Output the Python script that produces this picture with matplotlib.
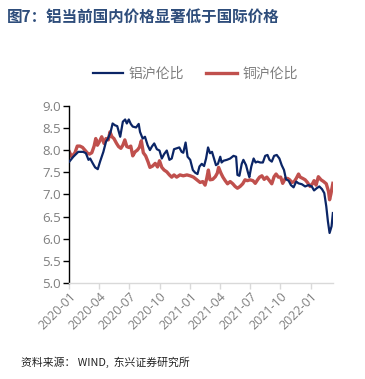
import numpy as np
import pandas as pd
import matplotlib
matplotlib.use('Agg')
import matplotlib.pyplot as plt
import matplotlib.dates as mdates

plt.rcParams['font.family'] = ['Noto Sans CJK SC', 'DejaVu Sans']

# Data (days since 2020-01-01, ratio values)
start = pd.Timestamp('2020-01-01')

al_days = [0,12,27,42,50,58,63,71,78,86, 93,103,111,117,125,131,138,145,154,162,
           169,174,180,186,192,202,210,214,222,229, 237,244,250,257,265,273,280,287,295,303,
           310,317,325,333,340,345,352,358,366,374, 381,388,394,401,408,414,420,426,432,438,
           444,450,457,461,467,477,487,497,505,509, 515,522,527,535,541,545,551,558,564,570,
           578,586,593,600,606,613,620,628,636,643, 650,656,664,671,679,687,694,704,714,724,
           734,741,749,757,765,772,778,783,788,794, 798]
al_ratio = [7.74,7.85,7.96,7.96,7.93,7.78,7.81,7.70,7.61,7.57,
            7.74,7.96,8.19,8.26,8.41,8.60,8.56,8.54,8.30,8.64,
            8.69,8.60,8.69,8.59,8.53,8.51,8.59,8.41,8.26,8.30,
            8.11,8.00,8.08,8.15,8.02,7.99,7.81,7.91,7.99,7.78,
            7.81,8.02,8.04,8.06,7.96,7.94,8.17,7.85,7.78,7.55,
            7.49,7.46,7.63,7.69,7.64,7.81,8.06,7.93,7.96,7.81,
            7.66,7.69,7.85,7.72,7.76,7.78,7.81,7.87,7.85,7.44,
            7.42,7.69,7.78,7.66,7.49,7.39,7.63,7.81,7.72,7.74,
            7.72,7.72,7.87,7.89,7.78,7.74,7.87,7.89,7.81,7.66,
            7.55,7.34,7.31,7.21,7.16,7.29,7.25,7.23,7.18,7.21,
            7.18,7.09,7.14,7.18,7.12,7.03,6.73,6.39,6.13,6.28,
            6.58]

cu_days = [0,7,17,24,32,40,47,55,61,68, 75,80,85,91,98,105,111,118,123,129,
           135,143,149,156,162,168,174,180,186,192, 199,206,212,218,224,231,238,244,252,260,
           267,273,280,287,295,303,310,317,325,335, 345,356,366,376,386,396,404,411,416,421,
           426,434,442,448,452,459,465,472,479,487, 495,502,509,517,525,532,539,547,556,563,
           570,576,583,590,598,606,613,620,626,633, 640,646,654,661,667,674,681,687,694,699,
           707,714,721,729,737,741,747,754,762,770, 778,785,788,792,798]
cu_ratio = [7.96,7.85,7.94,8.09,8.09,8.06,8.00,7.93,7.91,7.94,
            8.09,8.26,8.11,8.19,8.30,8.15,8.26,8.23,8.41,8.30,
            8.26,8.15,8.08,8.04,8.11,8.23,8.08,8.06,8.09,7.87,
            7.96,8.00,8.06,8.21,7.94,7.87,7.74,7.61,7.64,7.70,
            7.62,7.76,7.61,7.55,7.51,7.44,7.39,7.44,7.39,7.44,
            7.42,7.44,7.42,7.39,7.33,7.27,7.29,7.21,7.36,7.55,
            7.33,7.34,7.40,7.48,7.61,7.48,7.39,7.31,7.24,7.29,
            7.24,7.18,7.14,7.18,7.24,7.33,7.31,7.33,7.31,7.25,
            7.33,7.39,7.42,7.34,7.39,7.31,7.24,7.40,7.46,7.39,
            7.39,7.25,7.36,7.36,7.33,7.27,7.29,7.36,7.46,7.39,
            7.36,7.33,7.27,7.18,7.25,7.31,7.21,7.40,7.33,7.29,
            7.24,7.06,6.88,7.01,7.25]

labels = ['铝沪伦比', '铜沪伦比']
title = '图7：铝当前国内价格显著低于国际价格'
source = '资料来源： WIND,  东兴证券研究所'

al_dates = start + pd.to_timedelta(al_days, unit='D')
cu_dates = start + pd.to_timedelta(cu_days, unit='D')

# Plotting
fig = plt.figure(figsize=(3.65, 3.79), dpi=100)
ax = fig.add_axes([0.190, 0.253, 0.722, 0.468])

ax.plot(al_dates, al_ratio, '-', color='#0B2566', lw=1.6, label=labels[0], zorder=3)
ax.plot(cu_dates, cu_ratio, '-', color='#C0504D', lw=2.4, label=labels[1], zorder=2)

# Axes properties
ax.set_xlim(start, cu_dates[-1])
ax.set_ylim(5.0, 9.0)
ax.set_yticks(np.arange(5.0, 9.01, 0.5))
ax.yaxis.set_major_formatter(matplotlib.ticker.FormatStrFormatter('%.1f'))
ax.xaxis.set_major_locator(mdates.MonthLocator(bymonth=[1, 4, 7, 10]))
ax.xaxis.set_major_formatter(mdates.DateFormatter('%Y-%m'))

for s in ['top', 'right']:
    ax.spines[s].set_visible(False)
ax.spines['left'].set_color('black')
ax.spines['left'].set_linewidth(1.0)
ax.spines['bottom'].set_color('#D9D9D9')
ax.spines['bottom'].set_linewidth(1.0)

ax.tick_params(axis='y', colors='black', labelcolor='#7F7F7F', labelsize=9.5,
               length=4, width=1, pad=2)
ax.tick_params(axis='x', colors='#D9D9D9', labelcolor='#7F7F7F', labelsize=9,
               length=4, width=1, pad=1)
for lbl in ax.get_xticklabels():
    lbl.set_rotation(45)
    lbl.set_ha('right')
    lbl.set_rotation_mode('anchor')
    lbl.set_family(['Open Sans', 'DejaVu Sans'])
for lbl in ax.get_yticklabels():
    lbl.set_family(['Open Sans', 'DejaVu Sans'])

# Title, legend, source
fig.text(0.018, 0.955, title, fontsize=11.2, fontweight='bold', color='#2E4D7B',
         ha='left', va='center')
fig.legend(loc='center', bbox_to_anchor=(0.535, 0.806), ncol=2, frameon=False,
           fontsize=10, labelcolor='#7F7F7F', handlelength=2.2, columnspacing=1.6,
           handletextpad=0.4)
fig.text(0.057, 0.045, source, fontsize=7.8, style='italic', color='#222222',
         ha='left', va='center')

fig.savefig('out.png', dpi=100)
